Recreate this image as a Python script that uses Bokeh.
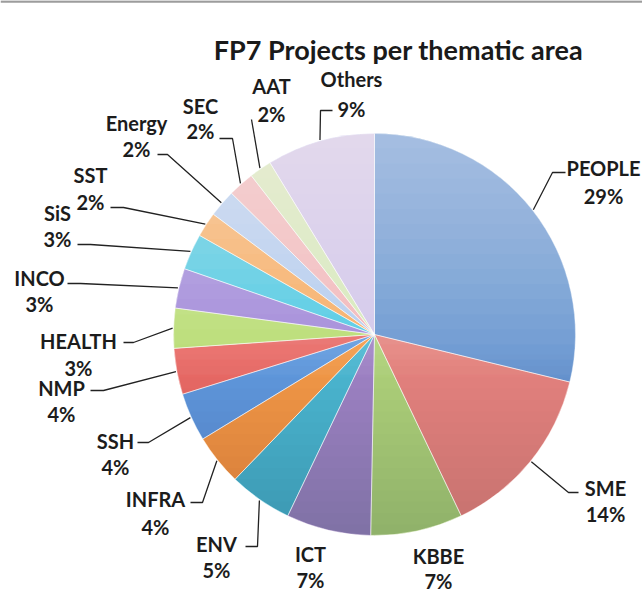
import math
from bokeh.plotting import figure
from bokeh.models import Range1d, Span
from bokeh.core.properties import value
from bokeh.embed import file_html
from bokeh.resources import INLINE

# ---- data ----
areas = ["PEOPLE", "SME", "KBBE", "ICT", "ENV", "INFRA", "SSH", "NMP",
         "HEALTH", "INCO", "SiS", "SST", "Energy", "SEC", "AAT", "Others"]
shares = [28.8, 14.1, 7.4, 6.8, 5.1, 4.1, 3.9, 3.7,
          3.2, 3.2, 2.9, 2.0, 2.2, 2.1, 1.8, 8.7]
colors = ["#6796d1", "#e6847f", "#b0d27a", "#a084c6", "#4cb8d2", "#f39a48",
          "#609ade", "#ea6a66", "#b8dc72", "#9f86d8", "#4ccbe6", "#f7ad60",
          "#b3cdf0", "#f3b6b8", "#d6ebb8", "#d2c8ec"]
title_text = "FP7 Projects per thematic area"

# ---- layout (page pixel coordinates, y downwards) ----
PAGE_W, PAGE_H = 642, 592
CX, CY, R = 374, 334, 201
label_pos = {  # name: (x center, y line1, y line2)
    "PEOPLE": (603, 167, 195), "SME": (605, 487, 513), "KBBE": (438, 555, 580),
    "ICT": (310, 553, 579), "ENV": (216, 543, 569), "INFRA": (155, 498, 526),
    "SSH": (115, 440, 466), "NMP": (61, 387, 413), "HEALTH": (78, 340, 367),
    "INCO": (39, 277, 303), "SiS": (57, 212, 238), "SST": (90, 174, 201),
    "Energy": (136, 122, 148), "SEC": (200, 105, 130), "AAT": (271, 85, 113),
    "Others": (351, 78, 108),
}
leader_elbows = {
    "PEOPLE": [(552, 172), (565, 172)], "SME": [(568, 492), (578, 492)],
    "ENV": [(257, 546), (245, 546)], "INFRA": [(202, 502), (190, 502)],
    "SSH": [(148, 442), (137, 442)], "NMP": [(103, 390), (90, 390)],
    "HEALTH": [(133, 342), (123, 342)], "INCO": [(80, 283), (67, 283)],
    "SiS": [(90, 244), (77, 244)], "SST": [(123, 207), (110, 207)],
    "Energy": [(167, 154), (157, 154)], "SEC": [(232, 138), (219, 138)],
    "AAT": [(251, 119)], "Others": [(320, 110), (332, 110)],
}

def Y(y):
    return PAGE_H - y

p = figure(width=PAGE_W, height=PAGE_H, x_range=Range1d(0, PAGE_W), y_range=Range1d(0, PAGE_H),
           output_backend="svg", toolbar_location=None, min_border=0)
p.axis.visible = False
p.grid.visible = False
p.outline_line_color = None

# thin grey frame edge at the top of the picture
p.add_layout(Span(location=Y(1), dimension="width", line_color="#9c9c9c", line_width=2.5))

total = sum(shares)
starts, ends, mids = [], [], []
acc = 0.0
for s in shares:
    a0 = acc / total * 360.0
    acc += s
    a1 = acc / total * 360.0
    starts.append(math.radians(90 - a1))
    ends.append(math.radians(90 - a0))
    mids.append(math.radians(90 - (a0 + a1) / 2))

p.wedge(x=CX, y=Y(CY), radius=R, start_angle=starts, end_angle=ends,
        direction="anticlock", fill_color=colors, line_color=None)

# soft vertical shading (light at the top, slightly darker at the bottom)
def cap(depth, from_top=True, n=48):
    c = (R - depth) / R
    c = max(-1.0, min(1.0, c))
    phi = math.acos(c)
    xs_, ys_ = [], []
    for k in range(n + 1):
        a = -phi + 2 * phi * k / n
        x = CX + R * math.sin(a)
        y = CY - R * math.cos(a) if from_top else CY + R * math.cos(a)
        xs_.append(x); ys_.append(Y(y))
    return xs_, ys_

K = 16
wx, wy, bx, by = [], [], [], []
for k in range(1, K + 1):
    a, b = cap(2 * R * 0.6 * k / K, True)
    wx.append(a); wy.append(b)
    a, b = cap(2 * R * 0.45 * k / K, False)
    bx.append(a); by.append(b)
p.patches(xs=wx, ys=wy, fill_color="white", fill_alpha=0.034, line_color=None)
p.patches(xs=bx, ys=by, fill_color="black", fill_alpha=0.006, line_color=None)

# thin light slice borders
p.wedge(x=CX, y=Y(CY), radius=R, start_angle=starts, end_angle=ends,
        direction="anticlock", fill_color=None,
        line_color="white", line_width=0.8, line_alpha=0.55)

# leader lines
xs, ys = [], []
for name, m in zip(areas, mids):
    if name not in leader_elbows:
        continue
    pts = [(CX + (R + 1) * math.cos(m), CY - (R + 1) * math.sin(m))] + leader_elbows[name]
    xs.append([q[0] for q in pts])
    ys.append([Y(q[1]) for q in pts])
p.multi_line(xs=xs, ys=ys, line_color="#222222", line_width=1.3)

# labels
lx, l1, l2, pct = [], [], [], []
for name, s in zip(areas, shares):
    x, y1, y2 = label_pos[name]
    lx.append(x); l1.append(Y(y1)); l2.append(Y(y2))
    pct.append(f"{round(s)}%")
common = dict(text_font=value("Lato"), text_font_style="bold", text_font_size="20px",
              text_align="center", text_baseline="middle", text_color="#1c1c1c")
p.text(x=lx, y=l1, text=areas, **common)
p.text(x=lx, y=l2, text=pct, **common)

p.text(x=[398], y=[Y(49)], text=[title_text], text_font=value("Lato"),
       text_font_style="bold", text_font_size="27px", text_align="center",
       text_baseline="middle", text_color="#1a1a1a")

open("out.html", "w").write(file_html(p, INLINE))
